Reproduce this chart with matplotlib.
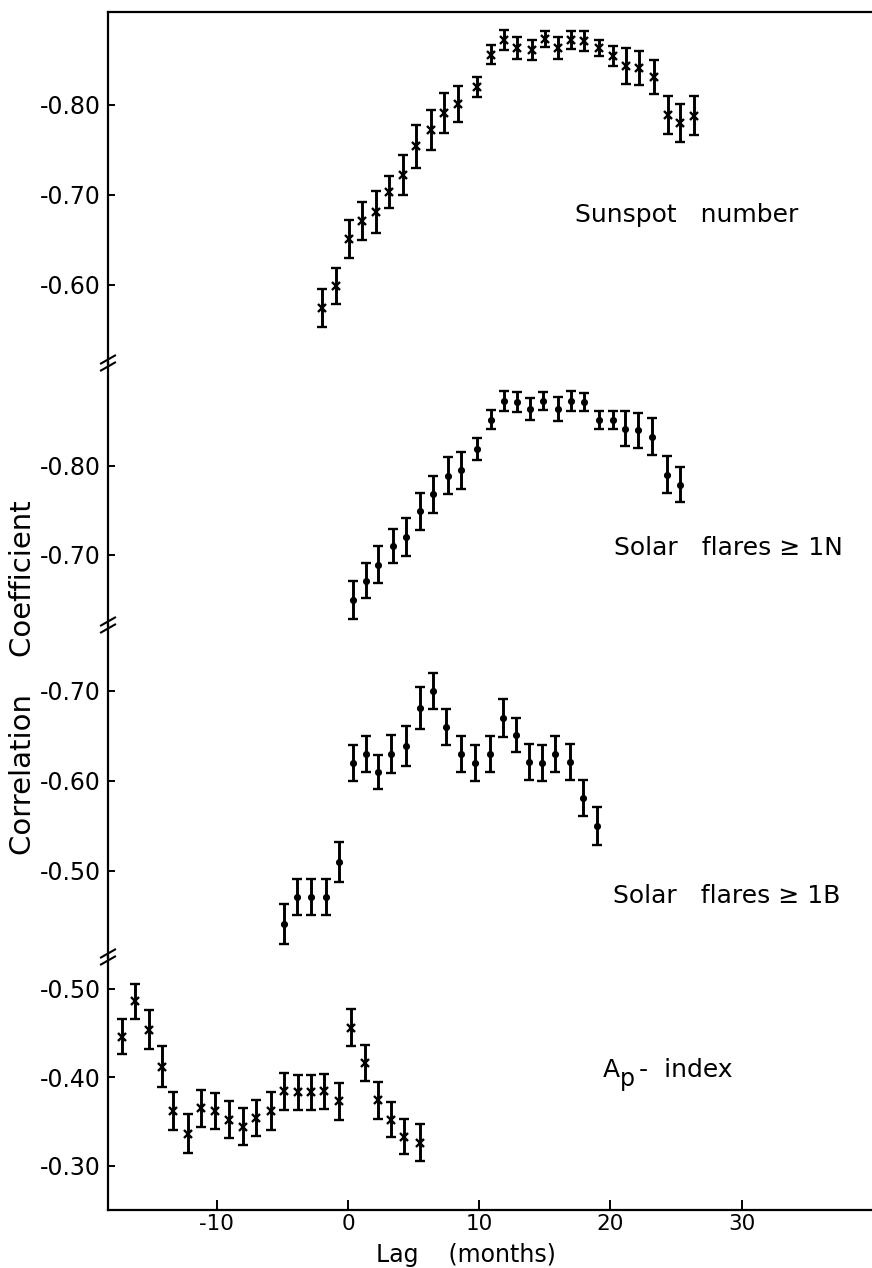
import matplotlib
matplotlib.use("Agg")
import matplotlib.pyplot as plt
from matplotlib.lines import Line2D
from matplotlib.ticker import FuncFormatter

plt.rcParams['font.family'] = ['DejaVu Sans']
plt.rcParams['axes.unicode_minus'] = False

# ---------------- data ----------------
sun_lag = [-2.0, -0.9, 0.1, 1.1, 2.1, 3.1, 4.2, 5.2, 6.3, 7.3, 8.4, 9.8, 10.9, 11.9,
           12.9, 14.0, 15.0, 16.0, 17.0, 18.0, 19.1, 20.2, 21.2, 22.2, 23.3, 24.4, 25.3, 26.4]
sun_r = [-0.574, -0.599, -0.651, -0.671, -0.681, -0.703, -0.722, -0.754, -0.772, -0.791,
         -0.801, -0.820, -0.856, -0.872, -0.863, -0.861, -0.873, -0.863, -0.872, -0.871,
         -0.863, -0.854, -0.843, -0.841, -0.831, -0.789, -0.780, -0.788]
sun_err = [0.021, 0.020, 0.021, 0.021, 0.023, 0.018, 0.022, 0.024, 0.022, 0.022,
           0.020, 0.011, 0.011, 0.011, 0.012, 0.011, 0.009, 0.012, 0.010, 0.011,
           0.009, 0.011, 0.020, 0.019, 0.019, 0.021, 0.021, 0.022]

n1_lag = [0.4, 1.4, 2.3, 3.4, 4.4, 5.5, 6.5, 7.6, 8.6, 9.8, 10.9, 11.9, 12.9, 13.9,
          14.9, 16.0, 17.0, 18.0, 19.1, 20.2, 21.1, 22.1, 23.2, 24.3, 25.3]
n1_r = [-0.649, -0.671, -0.689, -0.710, -0.720, -0.749, -0.768, -0.789, -0.795, -0.819,
        -0.852, -0.873, -0.872, -0.864, -0.873, -0.864, -0.873, -0.872, -0.852, -0.852,
        -0.842, -0.840, -0.833, -0.790, -0.779]
n1_err = [0.021, 0.020, 0.021, 0.019, 0.021, 0.021, 0.021, 0.021, 0.021, 0.012,
          0.011, 0.011, 0.011, 0.012, 0.010, 0.013, 0.011, 0.010, 0.010, 0.010,
          0.020, 0.020, 0.021, 0.021, 0.020]

b1_lag = [-4.9, -3.9, -2.8, -1.7, -0.7, 0.4, 1.4, 2.3, 3.3, 4.4, 5.5, 6.5, 7.5, 8.6,
          9.7, 10.8, 11.8, 12.8, 13.8, 14.8, 15.8, 16.9, 17.9, 19.0]
b1_r = [-0.441, -0.471, -0.471, -0.471, -0.510, -0.620, -0.630, -0.610, -0.630, -0.639,
        -0.681, -0.700, -0.660, -0.630, -0.620, -0.630, -0.670, -0.651, -0.621, -0.620,
        -0.630, -0.621, -0.581, -0.550]
b1_err = [0.022, 0.020, 0.020, 0.020, 0.022, 0.020, 0.020, 0.019, 0.021, 0.022,
          0.023, 0.020, 0.020, 0.020, 0.020, 0.020, 0.021, 0.019, 0.020, 0.020,
          0.020, 0.020, 0.020, 0.021]

ap_lag = [-17.2, -16.2, -15.2, -14.2, -13.3, -12.2, -11.2, -10.1, -9.1, -8.0, -7.0, -5.9,
          -4.9, -3.8, -2.8, -1.8, -0.7, 0.2, 1.3, 2.3, 3.3, 4.3, 5.5]
ap_r = [-0.446, -0.486, -0.454, -0.412, -0.362, -0.336, -0.365, -0.362, -0.352, -0.344,
        -0.354, -0.362, -0.384, -0.383, -0.383, -0.384, -0.373, -0.456, -0.416, -0.374,
        -0.352, -0.333, -0.326]
ap_err = [0.020, 0.020, 0.022, 0.023, 0.021, 0.022, 0.021, 0.020, 0.021, 0.021,
          0.020, 0.021, 0.021, 0.020, 0.020, 0.020, 0.021, 0.021, 0.020, 0.021,
          0.020, 0.020, 0.021]

panel_labels = ["Sunspot   number", "Solar   flares \u2265 1N", "Solar   flares \u2265 1B", None]
panel_ticks = [[-0.80, -0.70, -0.60], [-0.80, -0.70], [-0.70, -0.60, -0.50], [-0.50, -0.40, -0.30]]
x_ticks = [-10, 0, 10, 20, 30]

# ---------------- layout ----------------
W, H = 872, 1268
fig = plt.figure(figsize=(W / 100, H / 100), dpi=100)

left_px, right_px = 108, 872
panel_px = [(12, 363), (363, 625), (625, 957), (957, 1210)]
ylims = [(-0.513, -0.9033), (-0.621, -0.9157), (-0.4044, -0.7733), (-0.250, -0.536)]
xlim = (-18.29, 39.94)

series = [(sun_lag, sun_r, sun_err, 'x'), (n1_lag, n1_r, n1_err, 'o'),
          (b1_lag, b1_r, b1_err, 'o'), (ap_lag, ap_r, ap_err, 'x')]
label_pos = [(17.3, -0.678), (20.3, -0.708), (20.2, -0.472), (19.4, -0.408)]

fmt = FuncFormatter(lambda v, p: f"{v:.2f}")

axes = []
for i, ((t, b), yl, (lx, ly, le, mk), ticks, lab, lp) in enumerate(
        zip(panel_px, ylims, series, panel_ticks, panel_labels, label_pos)):
    ax = fig.add_axes([left_px / W, 1 - b / H, (right_px - left_px) / W, (b - t) / H])
    ax.set_xlim(*xlim)
    ax.set_ylim(*yl)
    ax.patch.set_alpha(0)
    ax.errorbar(lx, ly, yerr=le, fmt=mk, color='black', ecolor='black',
                elinewidth=2.1, capsize=3.4, capthick=1.6,
                markersize=5.5 if mk == 'x' else 3.4, markeredgewidth=1.7)
    ax.set_yticks(ticks)
    ax.yaxis.set_major_formatter(fmt)
    ax.tick_params(axis='y', direction='in', length=5, width=1.4, pad=5, labelsize=17)
    ax.spines['right'].set_visible(False)
    ax.spines['left'].set_linewidth(1.6)
    ax.spines['top'].set_visible(i == 0)
    ax.spines['top'].set_linewidth(1.6)
    ax.spines['bottom'].set_visible(i == 3)
    ax.spines['bottom'].set_linewidth(1.6)
    if i == 3:
        ax.set_xticks(x_ticks)
        ax.xaxis.set_major_formatter(FuncFormatter(lambda v, p: f"{int(v)}"))
        ax.tick_params(axis='x', direction='in', length=7, width=1.4, pad=3, labelsize=15.5)
    else:
        ax.set_xticks([])
    if lab is not None:
        ax.text(lp[0], lp[1], lab, fontsize=18, ha='left', va='center')
    else:
        # "Ap - index" with a lowered p
        ax.annotate("A", (lp[0], lp[1]), fontsize=18, ha='left', va='center')
        ax.annotate("p", (lp[0], lp[1]), xytext=(12.5, -6), textcoords='offset points',
                    fontsize=17, ha='left', va='center')
        ax.annotate("-  index", (lp[0], lp[1]), xytext=(26, 0), textcoords='offset points',
                    fontsize=18, ha='left', va='center')
    axes.append(ax)

# axis-break marks on the left spine
for (t, b) in panel_px[1:]:
    for off in (-3.5, 3.5):
        yc = t + off
        fig.add_artist(Line2D([(left_px - 7) / W, (left_px + 7) / W],
                              [1 - (yc + 4) / H, 1 - (yc - 4) / H],
                              transform=fig.transFigure, color='black', lw=1.5))

fig.text(23 / W, 1 - 678 / H, "Correlation    Coefficient", rotation=90,
         ha='center', va='center', fontsize=21)
fig.text(466 / W, 1 - 1262 / H, "Lag    (months)", ha='center', va='baseline', fontsize=17)

fig.savefig("out.png", dpi=100)
